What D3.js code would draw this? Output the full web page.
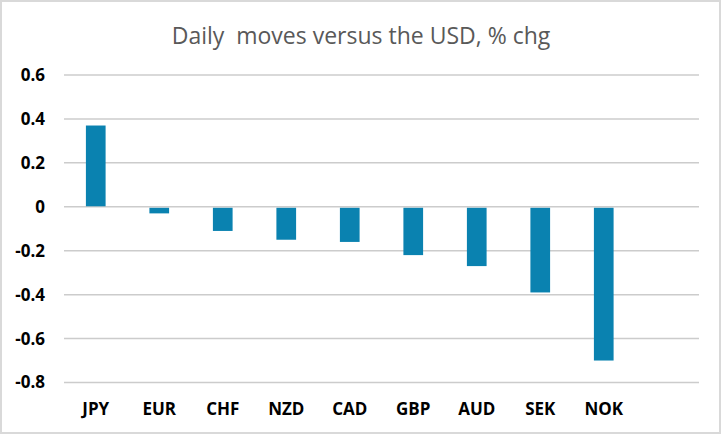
<!DOCTYPE html>
<html lang="en">
<head>
  <meta charset="UTF-8" />
  <title>Daily moves versus the USD</title>
  <script src="https://d3js.org/d3.v7.min.js"></script>
  <style>
    html, body { margin: 0; padding: 0; background: #fff; }
    svg { display: block; font-family: "Open Sans", "Noto Sans", sans-serif; }
    .grid line { stroke: #cccccc; stroke-width: 1.5px; }
    .tick-label { font-size: 17px; font-weight: 700; fill: #000; }
    .title { font-size: 23px; fill: #595959; white-space: pre; }
  </style>
</head>
<body>
  <svg id="chart" width="721" height="434"></svg>

  <script>
    // chart data
    const categories = ['JPY', 'EUR', 'CHF', 'NZD', 'CAD', 'GBP', 'AUD', 'SEK', 'NOK'];
    const values     = [0.37, -0.03, -0.11, -0.15, -0.16, -0.22, -0.27, -0.39, -0.70];
    const yTicks     = [0.6, 0.4, 0.2, 0, -0.2, -0.4, -0.6, -0.8];
    const titleText  = 'Daily  moves versus the USD, % chg';

    const W = 721, H = 434;
    const plot = { left: 64, right: 699, top: 75, bottom: 382.5 };
    const slots = categories.length + 1; // excel leaves an empty slot on the right

    const svg = d3.select('#chart');

    // outer border
    svg.append('rect')
      .attr('x', 1).attr('y', 1).attr('width', W - 2).attr('height', H - 2)
      .attr('fill', '#fff').attr('stroke', '#d9d9d9').attr('stroke-width', 2);

    const y = d3.scaleLinear().domain([-0.8, 0.6]).range([plot.bottom, plot.top]);
    const step = (plot.right - plot.left) / slots;
    const x = d3.scaleBand().domain(categories)
      .range([plot.left, plot.left + step * categories.length]).padding(0);
    const barW = x.bandwidth() * 0.31;

    // gridlines
    svg.append('g').attr('class', 'grid')
      .selectAll('line').data(yTicks).join('line')
      .attr('x1', plot.left).attr('x2', plot.right)
      .attr('y1', d => y(d)).attr('y2', d => y(d));

    // y labels
    svg.append('g').selectAll('text').data(yTicks).join('text')
      .attr('class', 'tick-label')
      .attr('x', 45).attr('y', d => y(d)).attr('dy', '0.35em')
      .attr('text-anchor', 'end')
      .text(d => d3.format('~g')(d).replace('−', '-'));

    // bars
    svg.append('g').selectAll('rect').data(values).join('rect')
      .attr('x', (d, i) => x(categories[i]) + (x.bandwidth() - barW) / 2)
      .attr('width', barW)
      .attr('y', d => d > 0 ? y(d) : y(0) + 1)
      .attr('height', d => Math.abs(y(d) - y(0)) - (d > 0 ? 0.5 : 1))
      .attr('fill', '#0a82b0');

    // x labels
    svg.append('g').selectAll('text').data(categories).join('text')
      .attr('class', 'tick-label')
      .attr('x', d => x(d) + x.bandwidth() / 2).attr('y', 415)
      .attr('text-anchor', 'middle')
      .text(d => d);

    // title
    svg.append('text').attr('class', 'title')
      .attr('x', 361).attr('y', 44).attr('text-anchor', 'middle')
      .text(titleText);
  </script>
</body>
</html>
